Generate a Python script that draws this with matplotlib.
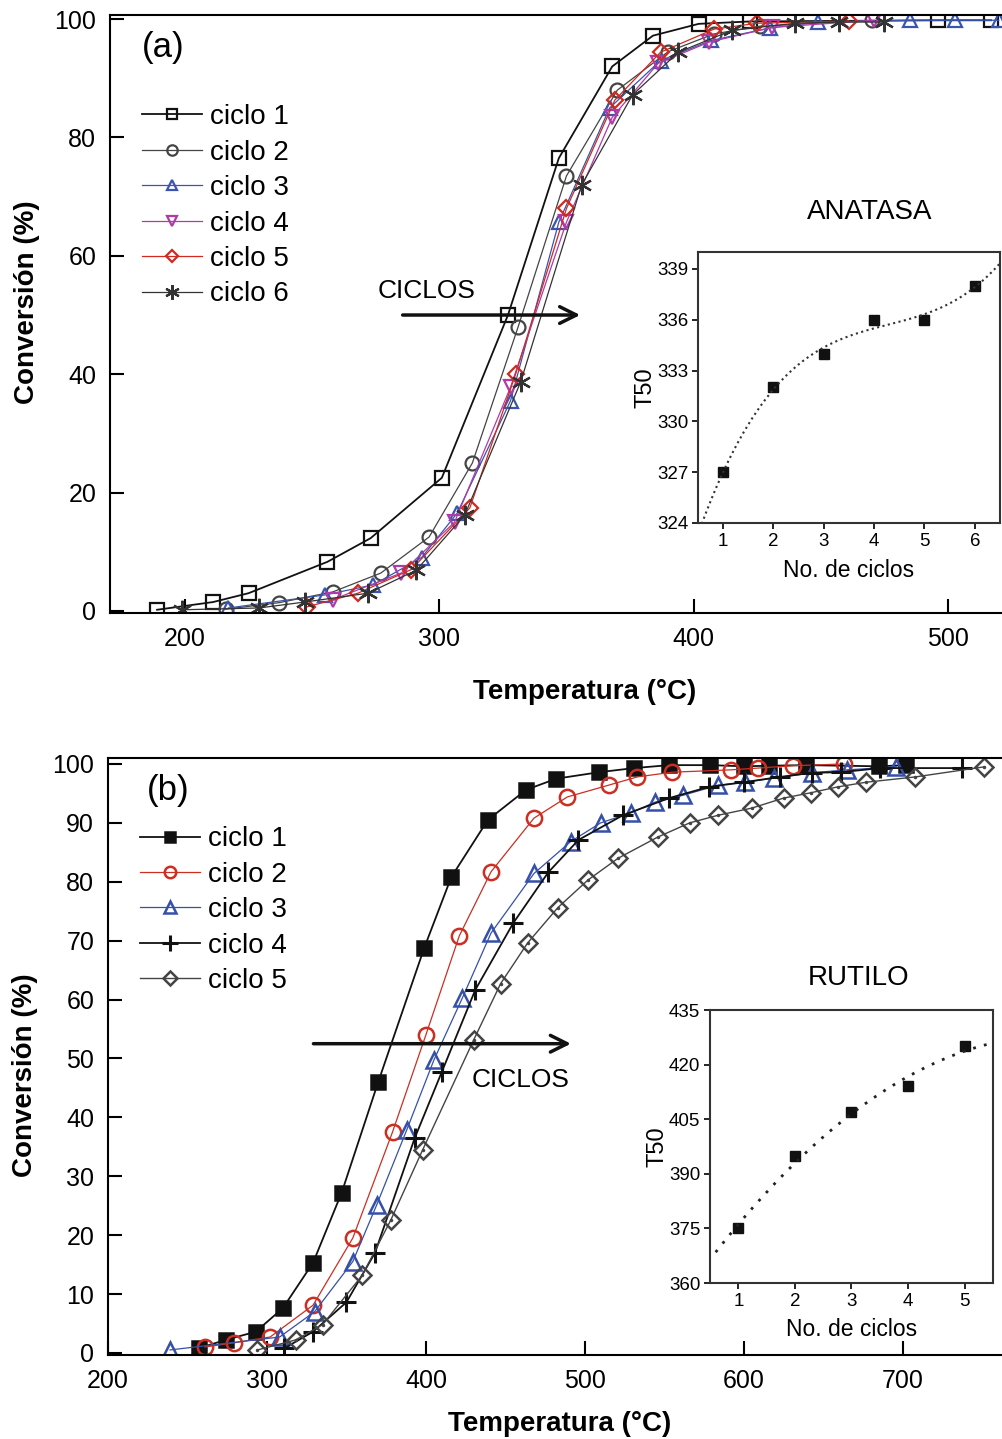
import numpy as np
import matplotlib
matplotlib.use('Agg')
import matplotlib.pyplot as plt

plt.rcParams['font.family'] = ['Liberation Sans', 'DejaVu Sans']

# ---- (a) anatasa: conversion vs temperature, 6 cycles ----
a_labels = ['ciclo 1', 'ciclo 2', 'ciclo 3', 'ciclo 4', 'ciclo 5', 'ciclo 6']
a1_t = [189, 211, 225, 256, 273, 301, 327, 347, 368, 384, 402, 422, 496, 517]
a1_c = [0.2, 1.5, 3.0, 8.3, 12.3, 22.5, 50.0, 76.5, 92.0, 97.2, 99.2, 99.6, 99.8, 99.8]
a2_t = [216, 237, 258, 277, 296, 313, 331, 350, 370, 390, 408, 426, 470]
a2_c = [0.3, 1.4, 3.2, 6.4, 12.5, 25.0, 48.0, 73.5, 88.0, 94.5, 97.5, 98.8, 99.8]
a3_t = [217, 255, 274, 293, 307, 328, 347, 367, 387, 407, 430, 449, 485, 503, 520]
a3_c = [0.5, 2.7, 4.4, 9.0, 16.5, 35.5, 65.7, 85.0, 93.0, 96.4, 98.5, 99.5, 99.8, 99.8, 99.8]
a4_t = [258, 285, 306, 328, 350, 368, 386, 406, 431, 471]
a4_c = [1.9, 6.4, 15.0, 37.8, 65.7, 83.4, 92.5, 96.1, 98.6, 99.8]
a5_t = [248, 268, 289, 312, 330, 350, 369, 387, 408, 425, 461]
a5_c = [0.7, 3.0, 7.0, 17.4, 40.0, 68.0, 86.3, 94.4, 98.3, 99.3, 99.7]
a6_t = [199, 229, 247, 272, 291, 310, 332, 356, 376, 394, 415, 440, 457, 475]
a6_c = [0.2, 0.5, 1.5, 3.0, 6.9, 16.2, 38.7, 72.0, 87.2, 94.4, 98.1, 99.3, 99.5, 99.5]

# inset (a): T50 vs cycle number
a_ciclos = [1, 2, 3, 4, 5, 6]
a_t50 = [327, 332, 334, 336, 336, 338]

# ---- (b) rutilo: conversion vs temperature, 5 cycles ----
b_labels = ['ciclo 1', 'ciclo 2', 'ciclo 3', 'ciclo 4', 'ciclo 5']
b1_t = [257, 274, 293, 310, 329, 347, 370, 399, 416, 439, 463, 482, 509, 531, 553, 579, 600, 616, 639, 685, 702]
b1_c = [0.8, 2.2, 3.6, 7.6, 15.3, 27.2, 46.0, 68.8, 80.8, 90.5, 95.6, 97.5, 98.6, 99.3, 99.8, 99.8, 99.6,
        99.7, 99.8, 99.6, 99.8]
b2_t = [261, 279, 302, 329, 354, 379, 400, 421, 441, 468, 489, 515, 533, 555, 592, 609, 631, 663]
b2_c = [1.0, 1.7, 2.7, 8.1, 19.5, 37.5, 54.0, 70.8, 81.7, 90.8, 94.4, 96.4, 97.8, 98.6, 99.0, 99.3, 99.7, 100.0]
b3_t = [239, 308, 330, 354, 369, 388, 405, 423, 441, 468, 491, 510, 529, 544, 562, 584, 601, 619, 643, 665, 696]
b3_c = [0.5, 2.7, 7.0, 15.5, 25.1, 37.9, 49.7, 60.3, 71.3, 81.4, 86.8, 90.0, 91.7, 93.5, 94.7, 96.4, 96.9,
        97.6, 98.5, 99.0, 99.5]
b4_t = [311, 329, 350, 368, 393, 410, 431, 455, 477, 496, 524, 553, 578, 600, 623, 643, 661, 686, 737]
b4_c = [0.8, 3.6, 8.6, 17.0, 36.5, 47.7, 61.6, 73.0, 81.6, 87.1, 91.3, 94.2, 96.1, 96.9, 97.8, 98.5, 98.6,
        99.3, 99.3]
b5_t = [294, 318, 335, 360, 378, 398, 430, 447, 464, 483, 502, 521, 546, 566, 584, 605, 625, 642, 659, 677,
        708, 751]
b5_c = [0.5, 2.2, 4.8, 13.2, 22.6, 34.5, 53.1, 62.7, 69.6, 75.6, 80.3, 84.0, 87.6, 90.0, 91.3, 92.5, 94.2,
        95.1, 96.1, 96.9, 97.8, 99.5]

# inset (b)
b_ciclos = [1, 2, 3, 4, 5]
b_t50 = [375, 395, 407, 414, 425]


def style_main(ax, xpad, xlab_x, ylab_y):
    ax.tick_params(direction='in', length=10, width=1.5, labelsize=18, pad=10)
    for s in ax.spines.values():
        s.set_linewidth(1.5)
    ax.spines['right'].set_visible(False)
    ax.set_xlabel('Temperatura (°C)', fontsize=20, fontweight='bold', labelpad=xpad)
    ax.set_ylabel('Conversión (%)', fontsize=20, fontweight='bold', labelpad=10)
    ax.xaxis.label.set_x(xlab_x)
    ax.yaxis.label.set_y(ylab_y)


def style_inset(ax, xpad):
    ax.tick_params(direction='out', length=4, width=1.2, labelsize=13.5, pad=3)
    for s in ax.spines.values():
        s.set_linewidth(1.5)
        s.set_color('#333333')
    ax.set_xlabel('No. de ciclos', fontsize=16.5, labelpad=xpad)
    ax.set_ylabel('T50', fontsize=17, labelpad=0)


legend_kw = dict(loc='upper left', frameon=False, fontsize=20, handlelength=2.16,
                 handletextpad=0.29, labelspacing=0.34, borderpad=0, numpoints=1, markerscale=0.75)

fig = plt.figure(figsize=(10.02, 14.39), dpi=100)

# ---------------- panel (a) ----------------
ax1 = fig.add_axes([0.1098, 0.574, 0.892, 0.4156])
a_series = [(a1_t, a1_c, 's', '#111111', 1.3),
            (a2_t, a2_c, 'o', '#444444', 0.9),
            (a3_t, a3_c, '^', '#3a55b0', 0.9),
            (a4_t, a4_c, 'v', '#b03aa8', 0.9),
            (a5_t, a5_c, 'D', '#d02a20', 0.9),
            (a6_t, a6_c, (6, 2, 0), '#333333', 0.9)]
for (t, c, m, col, lw), lab in zip(a_series, a_labels):
    ms = 8 if m == 'D' else 10
    if m == (6, 2, 0):
        ms = 14
    ax1.plot(t, c, marker=m, color=col, lw=lw, ms=ms, mfc='none', mec=col, mew=1.6, label=lab)

ax1.set_xlim(170.5, 522)
ax1.set_ylim(-0.35, 100.7)
ax1.set_xticks([200, 300, 400, 500])
ax1.set_yticks([0, 20, 40, 60, 80, 100])
style_main(ax1, 20, 0.531, 0.52)
ax1.legend(bbox_to_anchor=(0.02, 0.874), **legend_kw)
ax1.text(0.059, 0.946, '(a)', transform=ax1.transAxes, fontsize=25, va='center', ha='center')
ax1.annotate('', xy=(356.5, 50), xytext=(284.5, 50),
             arrowprops=dict(arrowstyle='->', lw=2.5, color='#111111', mutation_scale=30))
ax1.text(295, 54, 'CICLOS', fontsize=19, ha='center', va='center')
fig.text(870 / 1002, 1 - 212 / 1439, 'ANATASA', fontsize=20, ha='center', va='center')

# inset (a)
ia = fig.add_axes([0.6966, 0.6366, 0.3014, 0.1883])
ia.plot(a_ciclos, a_t50, 's', color='#111111', ms=7)
pa = np.polyfit(a_ciclos, a_t50, 3)
xa = np.linspace(0.5, 6.5, 200)
ia.plot(xa, np.polyval(pa, xa), ':', color='#333333', lw=1.5)
ia.set_xlim(0.5, 6.5)
ia.set_ylim(324, 340)
ia.set_xticks(a_ciclos)
ia.set_yticks([324, 327, 330, 333, 336, 339])
style_inset(ia, 7)

# ---------------- panel (b) ----------------
ax2 = fig.add_axes([0.1078, 0.0584, 0.894, 0.4148])
b_series = [(b1_t, b1_c, 's', '#111111', 'full', 1.3),
            (b2_t, b2_c, 'o', '#cc2e22', 'none', 0.9),
            (b3_t, b3_c, '^', '#3550a8', 'none', 0.9),
            (b4_t, b4_c, '+', '#111111', 'none', 1.3),
            (b5_t, b5_c, 'D', '#444444', 'none', 1.0)]
for (t, c, m, col, fill, lw), lab in zip(b_series, b_labels):
    ms = {'s': 10, 'o': 11, '^': 12, '+': 15, 'D': 9}[m]
    mew = 2.2 if m == '+' else 1.8
    ax2.plot(t, c, marker=m, color=col, lw=lw, ms=ms, mec=col, mew=mew,
             mfc=col if fill == 'full' else 'none', label=lab)
# dot in the middle of the diamonds
ax2.plot(b5_t, b5_c, ls='none', marker='.', ms=3, color='#444444')

ax2.set_xlim(200, 763.6)
ax2.set_ylim(-0.35, 101)
ax2.set_xticks([200, 300, 400, 500, 600, 700])
ax2.set_yticks(range(0, 101, 10))
style_main(ax2, 13, 0.504, 0.469)
ax2.legend(bbox_to_anchor=(0.02, 0.909), **legend_kw)
ax2.text(0.067, 0.946, '(b)', transform=ax2.transAxes, fontsize=25, va='center', ha='center')
ax2.annotate('', xy=(493, 52.5), xytext=(327.5, 52.5),
             arrowprops=dict(arrowstyle='->', lw=2.5, color='#111111', mutation_scale=30))
ax2.text(459.5, 46.4, 'CICLOS', fontsize=19, ha='center', va='center')
fig.text(859 / 1002, 1 - 978 / 1439, 'RUTILO', fontsize=20, ha='center', va='center')

# inset (b)
ib = fig.add_axes([0.7086, 0.1084, 0.2824, 0.1897])
ib.plot(b_ciclos, b_t50, 's', color='#111111', ms=7)
pb = np.polyfit(b_ciclos, b_t50, 2)
xb = np.linspace(0.6, 5.5, 200)
ib.plot(xb, np.polyval(pb, xb), color='#222222', lw=2, ls=(0, (1, 3)))
ib.set_xlim(0.5, 5.5)
ib.set_ylim(360, 435)
ib.set_xticks(b_ciclos)
ib.set_yticks([360, 375, 390, 405, 420, 435])
style_inset(ib, 6)

fig.savefig('out.png', dpi=100)
